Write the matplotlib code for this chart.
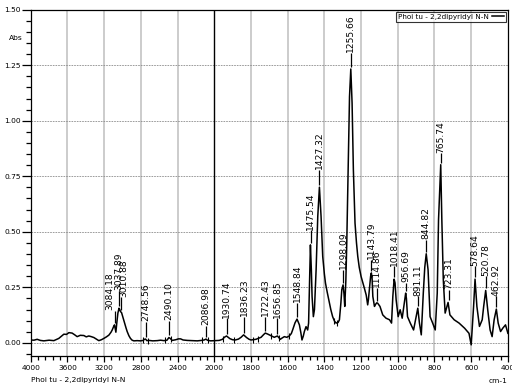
import numpy as np
import matplotlib
matplotlib.use("Agg")
import matplotlib.pyplot as plt
from matplotlib.ticker import FixedLocator, FixedFormatter

# spectrum (wavenumber cm-1, absorbance)
wavenumber = [4000, 3965, 3930, 3895, 3857, 3800, 3748, 3694, 3660, 3639, 3610, 3584,
              3549, 3520, 3494, 3460, 3421, 3395, 3367, 3340, 3312, 3285, 3258, 3230,
              3203, 3175, 3148, 3125, 3112, 3095, 3087, 3078, 3072, 3062, 3050, 3038,
              3030, 3022, 3010, 3003, 2990, 2978, 2962, 2949, 2930, 2913, 2895, 2876,
              2840, 2803, 2775, 2760, 2748, 2735, 2712, 2670, 2622, 2585, 2549, 2515,
              2494, 2480, 2458, 2420, 2390, 2367, 2340, 2294, 2240, 2185, 2140, 2110,
              2090, 2075, 2040, 2000, 1973, 1955, 1945, 1933, 1915, 1900, 1885, 1868,
              1854, 1840, 1824, 1810, 1800, 1773, 1745, 1730, 1722, 1710, 1700, 1685,
              1673, 1656, 1640, 1630, 1618, 1605, 1591, 1580, 1573, 1560, 1549, 1536,
              1528, 1522, 1515, 1509, 1500, 1491, 1486, 1480, 1476, 1471, 1467, 1460,
              1454, 1445, 1436, 1427, 1418, 1409, 1400, 1394, 1385, 1376, 1365, 1355,
              1345, 1336, 1325, 1318, 1310, 1305, 1298, 1293, 1289, 1283, 1278, 1270,
              1263, 1256, 1249, 1242, 1233, 1225, 1218, 1210, 1200, 1190, 1182, 1172,
              1164, 1160, 1155, 1148, 1144, 1140, 1136, 1127, 1123, 1115, 1110, 1104,
              1097, 1082, 1064, 1045, 1034, 1027, 1020, 1015, 1009, 998, 987, 976,
              967, 957, 953, 947, 932, 914, 900, 891, 882, 872, 861, 853,
              845, 835, 824, 810, 796, 785, 778, 766, 760, 752, 742, 733,
              726, 716, 693, 666, 636, 612, 600, 587, 579, 569, 555, 540,
              532, 521, 510, 497, 486, 475, 463, 453, 440, 428, 413, 400]
absorbance = [0.013, 0.012, 0.016, 0.011, 0.009, 0.012, 0.010, 0.020, 0.032, 0.039, 0.038, 0.046,
              0.044, 0.036, 0.028, 0.034, 0.033, 0.027, 0.031, 0.028, 0.024, 0.017, 0.010, 0.014,
              0.020, 0.027, 0.035, 0.048, 0.058, 0.075, 0.081, 0.060, 0.048, 0.090, 0.134, 0.156,
              0.150, 0.141, 0.136, 0.126, 0.108, 0.089, 0.068, 0.051, 0.032, 0.020, 0.012, 0.009,
              0.010, 0.009, 0.011, 0.016, 0.017, 0.010, 0.011, 0.009, 0.010, 0.012, 0.010, 0.012,
              0.024, 0.020, 0.011, 0.014, 0.018, 0.018, 0.013, 0.011, 0.010, 0.009, 0.011, 0.013,
              0.017, 0.012, 0.009, 0.010, 0.011, 0.016, 0.025, 0.031, 0.019, 0.014, 0.013, 0.017,
              0.025, 0.036, 0.024, 0.016, 0.013, 0.016, 0.025, 0.038, 0.044, 0.040, 0.036, 0.030,
              0.025, 0.031, 0.016, 0.022, 0.028, 0.025, 0.031, 0.042, 0.058, 0.090, 0.107, 0.081,
              0.045, 0.013, 0.030, 0.051, 0.073, 0.058, 0.089, 0.300, 0.441, 0.330, 0.209, 0.118,
              0.150, 0.329, 0.569, 0.701, 0.569, 0.389, 0.310, 0.269, 0.230, 0.194, 0.150, 0.118,
              0.098, 0.089, 0.092, 0.104, 0.180, 0.240, 0.261, 0.220, 0.164, 0.280, 0.449, 0.809,
              1.109, 1.233, 1.080, 0.780, 0.539, 0.450, 0.389, 0.340, 0.299, 0.270, 0.246, 0.215,
              0.171, 0.195, 0.239, 0.300, 0.315, 0.290, 0.209, 0.164, 0.171, 0.180, 0.179, 0.172,
              0.164, 0.126, 0.111, 0.104, 0.089, 0.209, 0.287, 0.270, 0.194, 0.118, 0.149, 0.111,
              0.164, 0.224, 0.200, 0.118, 0.089, 0.058, 0.118, 0.156, 0.089, 0.036, 0.224, 0.340,
              0.401, 0.329, 0.118, 0.089, 0.058, 0.224, 0.554, 0.802, 0.554, 0.284, 0.134, 0.160,
              0.182, 0.126, 0.104, 0.089, 0.066, 0.043, -0.009, 0.164, 0.287, 0.164, 0.074, 0.104,
              0.164, 0.236, 0.149, 0.058, 0.028, 0.104, 0.152, 0.089, 0.051, 0.066, 0.081, 0.043]

# picked peaks: position, apex absorbance, height where the label text starts
peak_wn = [3084.18, 3037.89, 3010.88, 2748.56, 2490.10, 2086.98, 1930.74, 1836.23,
           1722.43, 1656.85, 1548.84, 1475.54, 1427.32, 1298.09, 1255.66, 1143.79,
           1114.86, 1018.41, 956.69, 891.11, 844.82, 765.74, 723.31, 578.64,
           520.78, 462.92]
peak_abs = [0.081, 0.156, 0.136, 0.017, 0.024, 0.017, 0.031, 0.036,
            0.044, 0.031, 0.107, 0.441, 0.701, 0.261, 1.233, 0.315,
            0.179, 0.287, 0.224, 0.156, 0.401, 0.802, 0.182, 0.287,
            0.236, 0.152]
label_y = [0.145, 0.235, 0.205, 0.095, 0.100, 0.078, 0.110, 0.118,
           0.118, 0.111, 0.179, 0.506, 0.779, 0.329, 1.305, 0.374,
           0.248, 0.344, 0.269, 0.209, 0.464, 0.854, 0.239, 0.344,
           0.299, 0.209]
# crowded labels are nudged sideways (points)
label_dx = {3084.18: -3.2, 3010.88: 2.0}

# peak boundary marks the software leaves on the trace
bound_wn = [2774, 2727, 2538, 2472, 2134, 2073, 1955, 1891, 1791, 1764,
            1690, 1645, 1591, 1345, 1330]

x_major = [4000, 3600, 3200, 2800, 2400, 2000, 1800, 1600, 1400, 1200, 1000, 800, 600, 400]
y_major = [0.0, 0.25, 0.5, 0.75, 1.0, 1.25, 1.5]

sample_name = "Phoi tu - 2,2dipyridyl N-N"

narrow = ["Liberation Sans Narrow", "DejaVu Sans"]
plt.rcParams["font.family"] = narrow


def fwd(x):
    # 4000-2000 region drawn at half the scale of 2000-400
    x = np.asarray(x, dtype=float)
    return np.where(x > 2000, 2000 + (x - 2000) / 2.0, x)


def inv(u):
    u = np.asarray(u, dtype=float)
    return np.where(u > 2000, 2000 + (u - 2000) * 2.0, u)


fig = plt.figure(figsize=(5.12, 3.88), dpi=100)
ax = fig.add_axes([0.06, 0.082, 0.932, 0.893])
ax.set_xscale("function", functions=(fwd, inv))
ax.set_xlim(4000, 400)
ax.set_ylim(-0.06, 1.50)

# grid
for xv in x_major[1:-1]:
    if xv == 2000:
        ax.axvline(xv, color="black", lw=1.0, zorder=1)
    else:
        ax.axvline(xv, color="#c4c4c4", lw=1.2, zorder=0)
for yv in y_major[:-1]:
    ax.axhline(yv, color="#8c8c8c", lw=0.6, ls=(0, (2, 1.2)), zorder=0)

ax.plot(wavenumber, absorbance, color="black", lw=1.1, zorder=3, label=sample_name)

# boundary ticks sit on the trace
wn_sorted = np.array(wavenumber[::-1], dtype=float)
ab_sorted = np.array(absorbance[::-1], dtype=float)
bound_y = np.interp(bound_wn, wn_sorted, ab_sorted)
ax.plot(bound_wn, bound_y, ls="none", marker="|", ms=4, mew=0.8, color="black", zorder=3)

# peak labels
for wn, a, ly in zip(peak_wn, peak_abs, label_y):
    ax.vlines(wn, a + 0.01, ly, color="black", lw=0.9, zorder=3)
    ax.annotate("%.2f" % wn, xy=(wn, ly + 0.003), xytext=(label_dx.get(wn, 0), 0),
                textcoords="offset points", rotation=90, ha="center", va="bottom",
                fontsize=6.6, family="DejaVu Sans", zorder=4)

# ticks
minor_x = list(np.arange(4000, 2000, -80)) + list(np.arange(2000, 399, -40))
ax.xaxis.set_major_locator(FixedLocator(x_major))
ax.xaxis.set_major_formatter(FixedFormatter([str(v) for v in x_major]))
ax.xaxis.set_minor_locator(FixedLocator(minor_x))
ax.yaxis.set_major_locator(FixedLocator(y_major))
ax.yaxis.set_major_formatter(FixedFormatter(["%.2f" % v for v in y_major]))
ax.yaxis.set_minor_locator(FixedLocator(list(np.arange(-0.05, 1.5, 0.05))))
ax.tick_params(axis="both", which="major", labelsize=5.4, direction="out", width=0.9)
ax.tick_params(axis="y", which="major", length=6.5, pad=0.5)
ax.tick_params(axis="y", which="minor", length=3.5, width=0.9)
ax.tick_params(axis="x", which="major", length=4, pad=2)
ax.tick_params(axis="x", which="minor", length=3, width=0.9)
for sp in ax.spines.values():
    sp.set_linewidth(0.9)

leg = ax.legend(loc="upper right", fontsize=5.2, frameon=True, fancybox=False,
                edgecolor="black", markerfirst=False, handlelength=1.6,
                borderpad=0.25, borderaxespad=0.3, handletextpad=0.5)
leg.get_frame().set_linewidth(0.8)

fig.text(0.031, 0.902, "Abs", ha="center", va="center", fontsize=5.4)
fig.text(0.06, 0.021, sample_name, ha="left", va="center", fontsize=5.4)
fig.text(0.992, 0.019, "cm-1", ha="right", va="center", fontsize=5.4)

fig.savefig("out.png", dpi=100)
